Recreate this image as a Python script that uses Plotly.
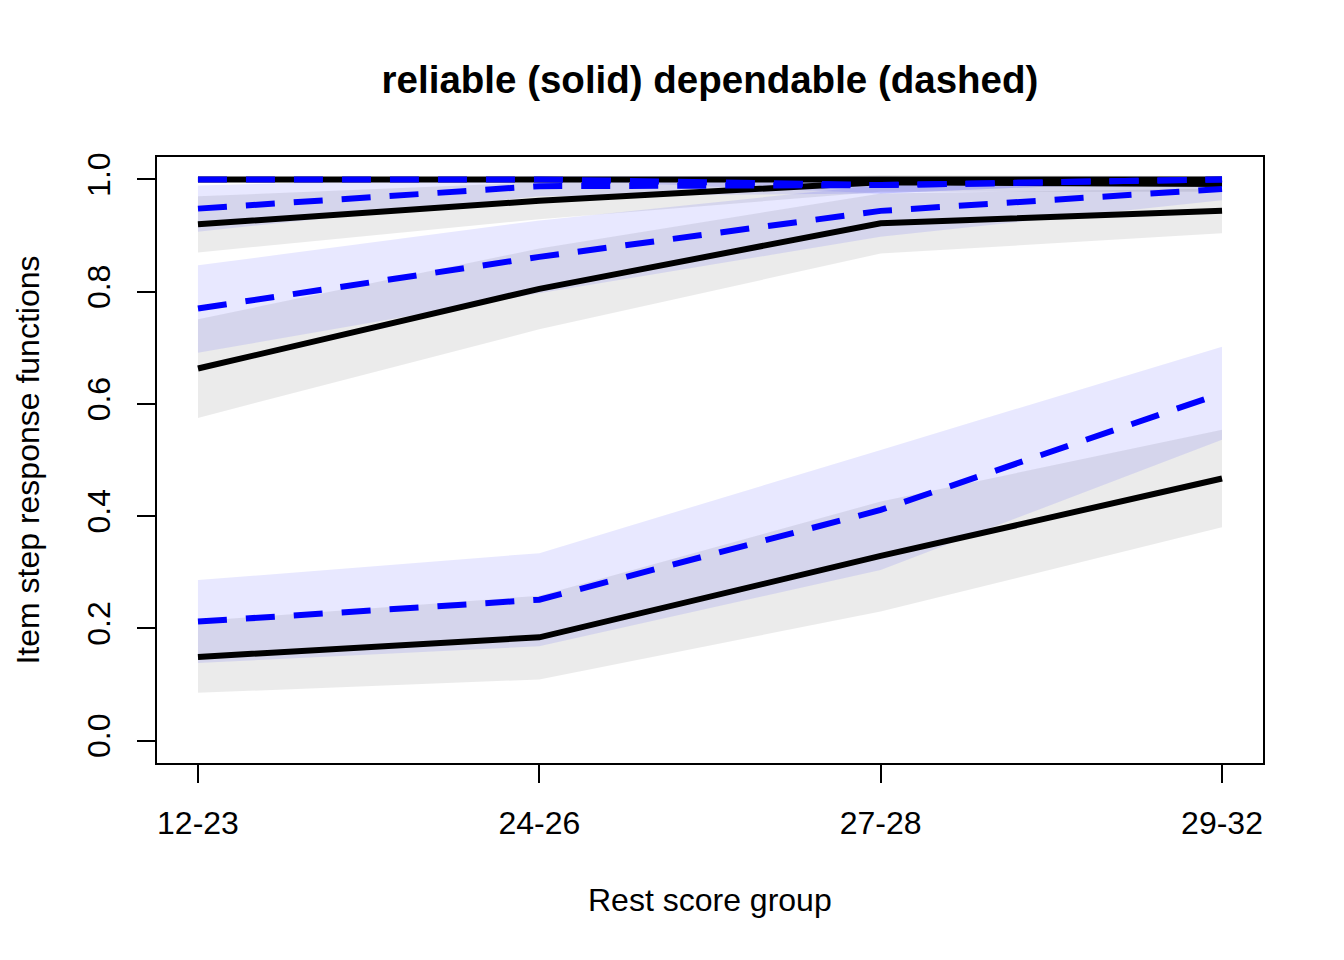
import plotly.graph_objects as go

groups = ["12-23", "24-26", "27-28", "29-32"]

# reliable (solid black) item step response functions and bounds
rel_1 = [1.000, 1.000, 1.000, 1.000]
rel_2 = [0.920, 0.962, 0.995, 0.992]
rel_3 = [0.663, 0.805, 0.922, 0.944]
rel_4 = [0.149, 0.184, 0.329, 0.467]

rel_1_lo = [1.000, 1.000, 1.000, 1.000]
rel_1_hi = [1.000, 1.000, 1.000, 1.000]
rel_2_lo = [0.870, 0.929, 0.978, 0.978]
rel_2_hi = [0.970, 0.995, 1.008, 1.006]
rel_3_lo = [0.575, 0.733, 0.868, 0.904]
rel_3_hi = [0.751, 0.877, 0.975, 0.984]
rel_4_lo = [0.085, 0.109, 0.230, 0.380]
rel_4_hi = [0.213, 0.258, 0.426, 0.554]

# dependable (dashed blue)
dep_1 = [1.000, 1.000, 0.990, 1.000]
dep_2 = [0.948, 0.988, 0.990, 1.000]
dep_3 = [0.770, 0.862, 0.944, 0.983]
dep_4 = [0.212, 0.251, 0.411, 0.619]

dep_1_lo = [1.000, 1.000, 0.975, 1.000]
dep_1_hi = [1.000, 1.000, 1.005, 1.000]
dep_2_lo = [0.907, 0.970, 0.975, 1.000]
dep_2_hi = [0.989, 1.006, 1.005, 1.000]
dep_3_lo = [0.691, 0.797, 0.898, 0.963]
dep_3_hi = [0.847, 0.927, 0.990, 1.003]
dep_4_lo = [0.138, 0.168, 0.304, 0.536]
dep_4_hi = [0.286, 0.334, 0.518, 0.702]

fig = go.Figure()

def band(lo, hi, color):
    fig.add_trace(go.Scatter(x=groups, y=lo, mode='lines', line=dict(width=0),
                             hoverinfo='skip', showlegend=False))
    fig.add_trace(go.Scatter(x=groups, y=hi, mode='lines', line=dict(width=0),
                             fill='tonexty', fillcolor=color,
                             hoverinfo='skip', showlegend=False))

gray = 'rgba(0,0,0,0.08)'
lav = 'rgba(0,0,255,0.09)'

for lo, hi in [(rel_1_lo, rel_1_hi), (rel_2_lo, rel_2_hi), (rel_3_lo, rel_3_hi), (rel_4_lo, rel_4_hi)]:
    band(lo, hi, gray)
for lo, hi in [(dep_1_lo, dep_1_hi), (dep_2_lo, dep_2_hi), (dep_3_lo, dep_3_hi), (dep_4_lo, dep_4_hi)]:
    band(lo, hi, lav)

for ys in [rel_1, rel_2, rel_3, rel_4]:
    fig.add_trace(go.Scatter(x=groups, y=ys, mode='lines',
                             line=dict(color='black', width=6), showlegend=False))
for ys in [dep_1, dep_2, dep_3, dep_4]:
    fig.add_trace(go.Scatter(x=groups, y=ys, mode='lines',
                             line=dict(color='blue', width=6, dash='29px,19px'), showlegend=False))

fnt = "Liberation Sans, Arial, Helvetica, sans-serif"

# the page puts the plot 8px in from the corner, so margins are shifted by 8
fig.update_layout(
    width=1344, height=960,
    margin=dict(l=149, r=89, t=149, b=205),
    plot_bgcolor='white', paper_bgcolor='white',
    font=dict(family=fnt, color='black', size=32),
    title=dict(text='reliable (solid) dependable (dashed)', x=0.5, xref='paper',
               y=1 - 72 / 960, yanchor='middle', xanchor='center',
               font=dict(size=38.5, weight='bold', family=fnt, color='black')),
)

fig.update_xaxes(type='category', range=[-0.12, 3.12], showgrid=False, zeroline=False,
                 showline=True, mirror=True, linecolor='black', linewidth=2,
                 ticks='outside', ticklen=18, tickwidth=2, tickcolor='black',
                 tickfont=dict(size=32), ticklabelstandoff=13)
fig.update_yaxes(range=[-0.04, 1.04], showgrid=False, zeroline=False,
                 showline=True, mirror=True, linecolor='black', linewidth=2,
                 tickvals=[0, 0.2, 0.4, 0.6, 0.8, 1.0], tickformat='.1f', tickangle=-90,
                 ticks='outside', ticklen=18, tickwidth=2, tickcolor='black',
                 tickfont=dict(size=32), ticklabelstandoff=14)

fig.add_annotation(text='Rest score group', xref='paper', yref='paper',
                   x=0.5, y=-0.2254, xanchor='center', yanchor='middle',
                   showarrow=False, font=dict(size=32))
fig.add_annotation(text='Item step response functions', xref='paper', yref='paper',
                   x=-0.117, y=0.5, xanchor='center', yanchor='middle', textangle=-90,
                   showarrow=False, font=dict(size=32), borderpad=0)

fig.write_html("out.html")
